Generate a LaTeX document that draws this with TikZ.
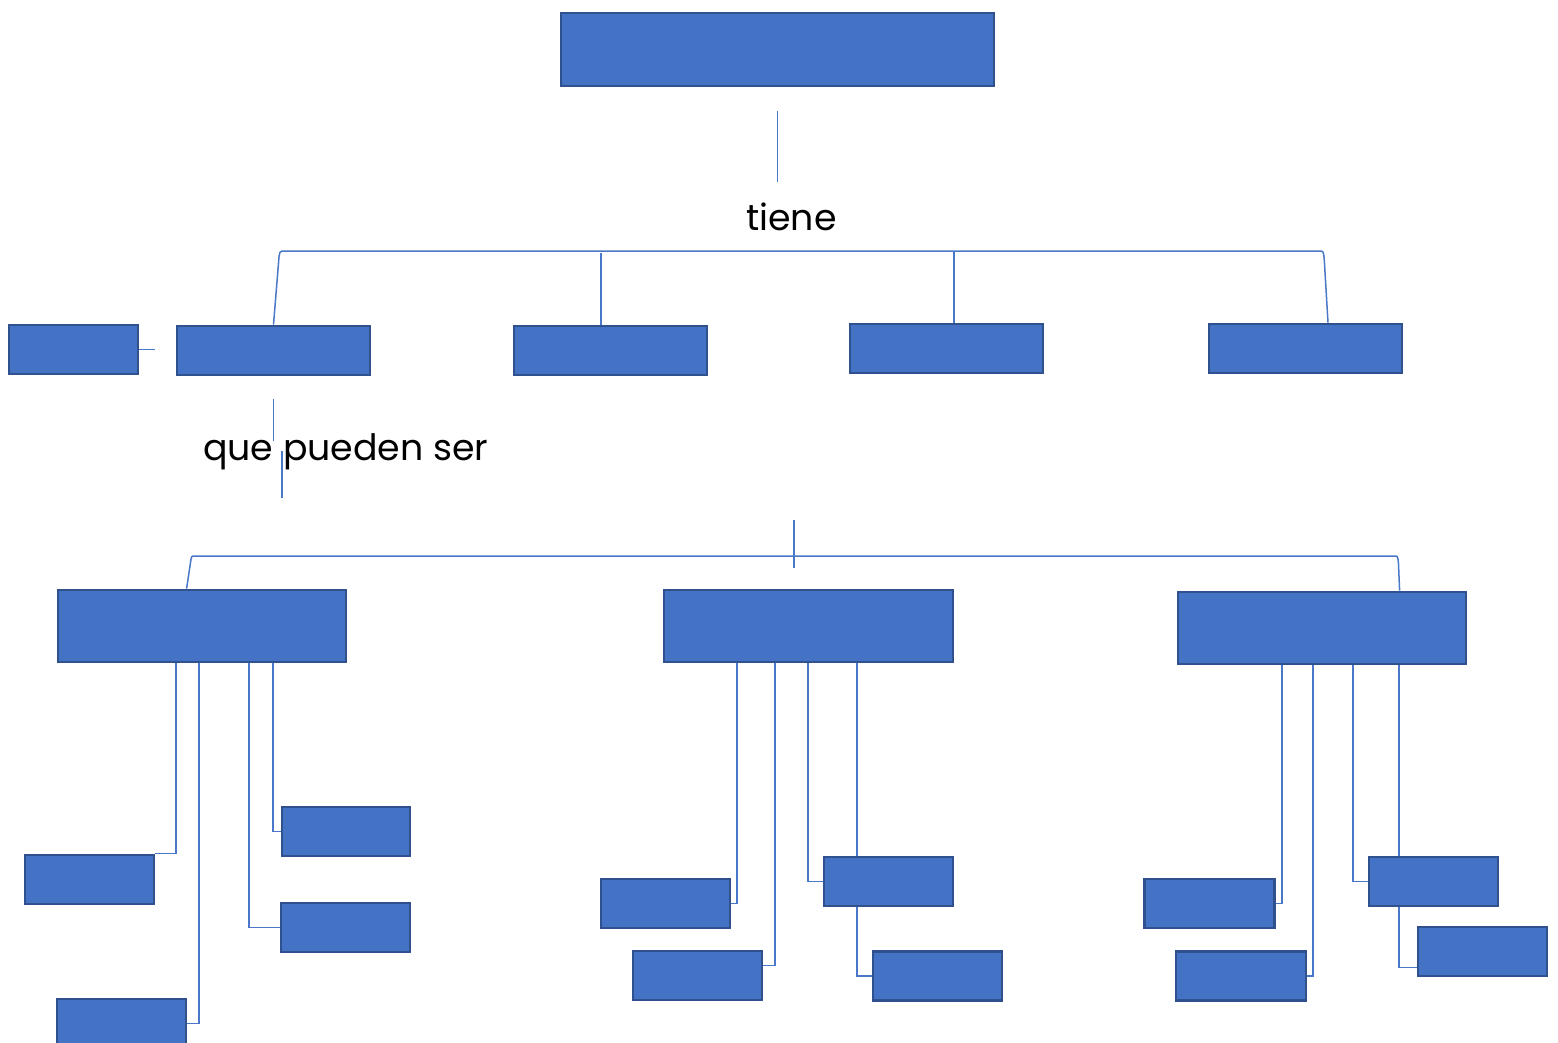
\documentclass[tikz,border=0pt]{standalone}
\usepackage{fontspec}
\setmainfont{Poppins}
\usetikzlibrary{calc}
\definecolor{boxfill}{HTML}{4472C4}
\definecolor{boxline}{HTML}{2F528F}
\definecolor{wire}{HTML}{4A78C8}
\tikzset{
  box/.style={draw=boxline, fill=boxfill, line width=2.8pt, inner sep=0pt,
              minimum height=49pt},
  small/.style={box, minimum width=129pt},
  mid/.style={box, minimum width=193pt},
  big/.style={box, minimum width=288pt, minimum height=72pt},
  link/.style={draw=wire, line width=1.5pt},
  label/.style={inner sep=0pt, font=\fontsize{36.3}{40}\selectfont, text=black}
}
\begin{document}
\begin{tikzpicture}[x=1pt,y=-1pt]
\useasboundingbox (0,0) rectangle (1558,1043);

% title box
\node[box, minimum width=433pt, minimum height=73pt] (top) at (777.5,49.5) {};

% second row
\node[small] (A) at (73.5,349.5) {};
\node[mid] (B) at (273.5,350.5) {};
\node[mid] (C) at (610.5,350.5) {};
\node[mid] (D) at (946.5,348.5) {};
\node[mid] (E) at (1305.5,348.5) {};

% third row
\node[big] (F) at (202,626) {};
\node[big, minimum width=289pt] (G) at (808.5,626) {};
\node[big] (H) at (1322,628) {};

% leaves
\node[small] (I) at (89.5,879.5) {};
\node[small] (J) at (121.5,1023.5) {};
\node[small, minimum width=128pt] (K) at (346,831.5) {};
\node[small] (L) at (345.5,927.5) {};
\node[small] (M) at (665.5,903.5) {};
\node[small] (N) at (697.5,975.5) {};
\node[small] (O) at (888.5,881.5) {};
\node[small] (P) at (937.5,976) {};
\node[small, minimum width=130pt] (Q) at (1209.5,903.5) {};
\node[small, minimum width=130pt] (R) at (1241,976) {};
\node[small] (S) at (1433.5,881.5) {};
\node[small] (T) at (1482.5,951.5) {};

% labels
\node[label, anchor=base] (tiene) at (791.5,230) {tiene};
\node[label, anchor=base west] (pueden) at (203,460) {que pueden ser};

% stub under the title
\coordinate (t1) at ($(top.south)+(0,24)$);
\coordinate (t2) at ($(top.south)+(0,95)$);
\draw[link] (t1) -- (t2);

% upper bracket
\draw[link] (B.north) -- (278.6,262) .. controls (279.4,251) .. (285,251)
  -- (1319,251) .. controls (1323.6,251) .. (1324.4,262) -- ($(E.north)+(22.5,0)$);
\draw[link] ($(C.north)+(-9.5,0)$) -- ++(0,-72);
\draw[link] ($(D.north)+(7.5,0)$) -- ++(0,-72);

% stub beside the first box
\draw[link] (A.east) -- ++(16,0);

% stubs under the second box
\coordinate (b1) at ($(B.south)+(0,23)$);
\coordinate (b2) at ($(B.south)+(0,65)$);
\draw[link] (b1) -- (b2);
\coordinate (b3) at ($(B.south)+(8.5,75)$);
\coordinate (b4) at ($(B.south)+(8.5,122)$);
\draw[link] (b3) -- (b4);

% lower bracket
\draw[link] ($(F.north west)+(130,0)$) -- (190.6,562) .. controls (191.4,556) .. (195,556)
  -- (1394,556) .. controls (1397.6,556) .. (1398.4,562) -- ($(H.north west)+(223,0)$);
\coordinate (m1) at (794,520);
\coordinate (m2) at (794,568);
\draw[link] (m1) -- (m2);

% branches of the first group
\draw[link] ($(F.south west)+(119.5,0)$) |- (I.north east);
\draw[link] ($(F.south west)+(142.5,0)$) |- (J.east);
\draw[link] ($(F.south west)+(192.5,0)$) |- (L.west);
\draw[link] ($(F.south west)+(216.5,0)$) |- (K.west);

% branches of the second group
\draw[link] ($(G.south west)+(74.5,0)$) |- (M.east);
\draw[link] ($(G.south west)+(112.5,0)$) |- ($(N.north east)+(0,16)$);
\draw[link] ($(G.south west)+(145.5,0)$) |- (O.west);
\draw[link] ($(G.south west)+(194.5,0)$) -- ($(O.north west)+(34.5,0)$);
\draw[link] ($(O.south west)+(34.5,0)$) |- (P.west);

% branches of the third group
\draw[link] ($(H.south west)+(105.5,0)$) |- (Q.east);
\draw[link] ($(H.south west)+(136.5,0)$) |- (R.east);
\draw[link] ($(H.south west)+(176.5,0)$) |- (S.west);
\draw[link] ($(H.south west)+(222.5,0)$) -- ($(S.north west)+(31.5,0)$);
\draw[link] ($(S.south west)+(31.5,0)$) |- ($(T.south west)+(0,-10)$);
\end{tikzpicture}
\end{document}
